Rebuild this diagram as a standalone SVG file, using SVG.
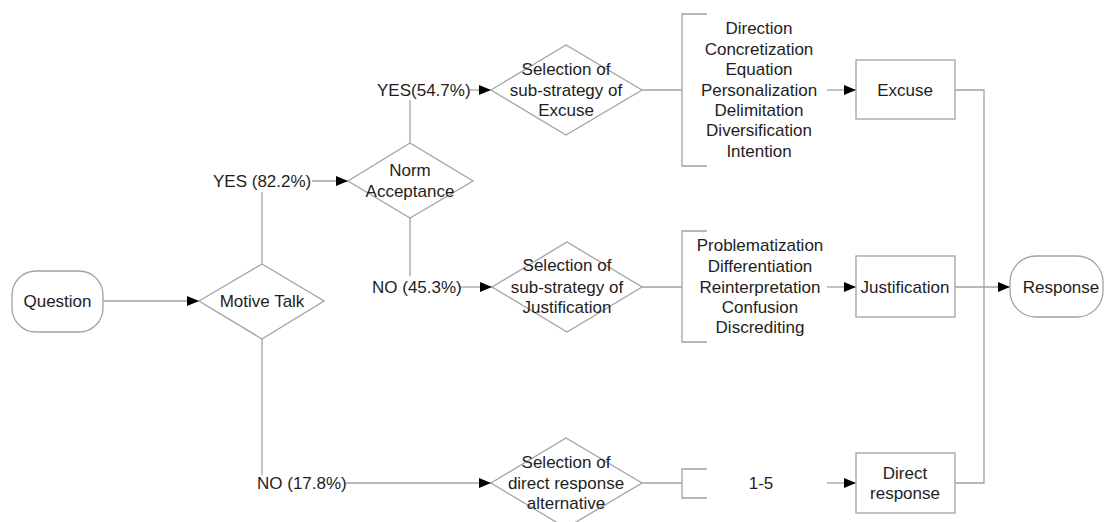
<svg xmlns="http://www.w3.org/2000/svg" width="1114" height="522" viewBox="0 0 1114 522">
<style>
  .shape { fill: #ffffff; stroke: #a3a3a3; stroke-width: 1.3; }
  .line { fill: none; stroke: #a3a3a3; stroke-width: 1.3; }
  text { font-family: "Liberation Sans", Arial, sans-serif; font-size: 17px; fill: #1e1e1e; text-anchor: middle; }
  .lbl { text-anchor: start; }
</style>
<defs>
  <marker id="arrow" viewBox="0 0 12 10" refX="12" refY="5" markerWidth="12" markerHeight="10" markerUnits="userSpaceOnUse" orient="auto">
    <path d="M0,0 L12,5 L0,10 Z" fill="#000000"/>
  </marker>
</defs>
<rect width="1114" height="522" fill="#ffffff"/>

<g id="connectors">
  <line class="line" x1="103" y1="301" x2="199" y2="301" marker-end="url(#arrow)"/>
  <polyline class="line" points="262,264 262,192"/>
  <line class="line" x1="312" y1="181" x2="348" y2="181" marker-end="url(#arrow)"/>
  <polyline class="line" points="410,143 410,100"/>
  <line class="line" x1="470" y1="90" x2="491" y2="90" marker-end="url(#arrow)"/>
  <polyline class="line" points="410,218 410,276"/>
  <line class="line" x1="460" y1="287" x2="492" y2="287" marker-end="url(#arrow)"/>
  <polyline class="line" points="262,339 262,475"/>
  <line class="line" x1="346" y1="483" x2="491" y2="483" marker-end="url(#arrow)"/>
  <line class="line" x1="642" y1="90" x2="682" y2="90"/>
  <line class="line" x1="642" y1="287" x2="682" y2="287"/>
  <line class="line" x1="642" y1="483" x2="682" y2="483"/>
  <line class="line" x1="827" y1="90" x2="856" y2="90" marker-end="url(#arrow)"/>
  <line class="line" x1="827" y1="287" x2="856" y2="287" marker-end="url(#arrow)"/>
  <line class="line" x1="827" y1="483" x2="856" y2="483" marker-end="url(#arrow)"/>
  <polyline class="line" points="955,90 984,90 984,483 955,483"/>
  <line class="line" x1="955" y1="287" x2="1010" y2="287" marker-end="url(#arrow)"/>
  <text class="lbl" x="213" y="187">YES (82.2%)</text>
  <text class="lbl" x="377" y="96">YES(54.7%)</text>
  <text class="lbl" x="372" y="293">NO (45.3%)</text>
  <text class="lbl" x="257" y="489">NO (17.8%)</text>
</g>

<g id="question">
  <rect class="shape" x="12" y="271" width="91" height="61" rx="24" ry="24"/>
  <text x="57.5" y="307">Question</text>
</g>

<g id="motive-talk">
  <polygon class="shape" points="199,301 262,264 324,301 262,339"/>
  <text x="262" y="307">Motive Talk</text>
</g>

<g id="norm-acceptance">
  <polygon class="shape" points="348,181 410,143 473,181 410,218"/>
  <text x="410" y="176">Norm</text>
  <text x="410" y="197">Acceptance</text>
</g>

<g id="select-excuse">
  <polygon class="shape" points="491,90 566,45 642,90 566,135"/>
  <text x="566" y="75">Selection of</text>
  <text x="566" y="96">sub-strategy of</text>
  <text x="566" y="116">Excuse</text>
</g>

<g id="select-justification">
  <polygon class="shape" points="492,287 567,242 642,287 567,332"/>
  <text x="567" y="271">Selection of</text>
  <text x="567" y="293">sub-strategy of</text>
  <text x="567" y="313">Justification</text>
</g>

<g id="select-direct">
  <polygon class="shape" points="491,483 566,438 642,483 566,528"/>
  <text x="566" y="468">Selection of</text>
  <text x="566" y="489">direct response</text>
  <text x="566" y="509">alternative</text>
</g>

<g id="excuse-list">
  <path class="line" d="M707,14 H682 V166 H707"/>
  <text x="759" y="34">Direction</text>
  <text x="759" y="55">Concretization</text>
  <text x="759" y="75">Equation</text>
  <text x="759" y="96">Personalization</text>
  <text x="759" y="116">Delimitation</text>
  <text x="759" y="136">Diversification</text>
  <text x="759" y="157">Intention</text>
</g>

<g id="justification-list">
  <path class="line" d="M707,231 H682 V342 H707"/>
  <text x="760" y="251">Problematization</text>
  <text x="760" y="272">Differentiation</text>
  <text x="760" y="293">Reinterpretation</text>
  <text x="760" y="313">Confusion</text>
  <text x="760" y="333">Discrediting</text>
</g>

<g id="direct-list">
  <path class="line" d="M707,469 H682 V498 H707"/>
  <text x="761" y="489">1-5</text>
</g>

<g id="excuse">
  <rect class="shape" x="856" y="60" width="99" height="59"/>
  <text x="905" y="96">Excuse</text>
</g>

<g id="justification">
  <rect class="shape" x="856" y="256" width="99" height="61"/>
  <text x="905" y="293">Justification</text>
</g>

<g id="direct-response">
  <rect class="shape" x="856" y="453" width="99" height="60"/>
  <text x="905" y="479">Direct</text>
  <text x="905" y="499">response</text>
</g>

<g id="response">
  <rect class="shape" x="1010" y="256" width="93" height="61" rx="26" ry="26"/>
  <text x="1061" y="293">Response</text>
</g>
</svg>
